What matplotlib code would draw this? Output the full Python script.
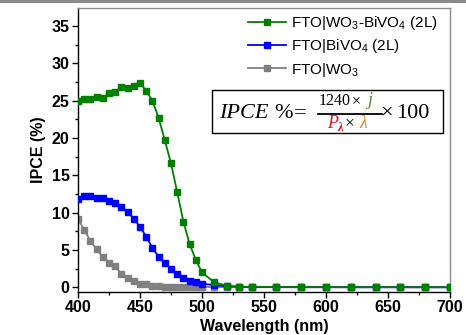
import matplotlib
matplotlib.use("Agg")
import matplotlib.pyplot as plt
from matplotlib.ticker import MultipleLocator
from matplotlib.patches import Rectangle

# ---- data ----
wavelength = [400, 405, 410, 415, 420, 425, 430, 435, 440, 445, 450, 455, 460, 465, 470,
              475, 480, 485, 490, 495, 500, 510, 520, 530, 540, 560, 580, 600, 620, 640,
              660, 680, 700]
ipce_wo3_bivo4 = [24.9, 25.2, 25.2, 25.5, 25.4, 26.0, 26.2, 26.8, 26.7, 26.9, 27.4, 26.3, 25.0,
                  22.7, 19.7, 16.6, 12.75, 8.8, 5.8, 3.7, 2.0, 0.67, 0.23, 0.1, 0.08, 0.05,
                  0.05, 0.05, 0.04, 0.04, 0.04, 0.03, 0.03]
ipce_bivo4 = [11.8, 12.2, 12.2, 12.0, 11.95, 11.6, 11.3, 10.8, 10.1, 9.2, 8.1, 6.8, 5.3, 4.1,
              3.2, 2.5, 1.8, 1.3, 0.9, 0.67, 0.5, 0.3, 0.15, 0.08, 0.05, 0.04, 0.03, 0.03,
              0.02, 0.02, 0.02, 0.02, 0.02]
ipce_wo3 = [9.2, 7.7, 6.25, 5.1, 4.06, 3.26, 2.8, 1.83, 1.26, 0.8, 0.5, 0.4, 0.25, 0.15, 0.1,
            0.08, 0.07, 0.06, 0.05, 0.05, 0.05, 0.04, 0.04, 0.03, 0.03, 0.03, 0.02, 0.02,
            0.02, 0.02, 0.02, 0.02, 0.02]
labels = [r"FTO|WO$_3$-BiVO$_4$ (2L)", r"FTO|BiVO$_4$ (2L)", r"FTO|WO$_3$"]
x_ticks = [400, 450, 500, 550, 600, 650, 700]
y_ticks = [0, 5, 10, 15, 20, 25, 30, 35]

plt.rcParams['font.family'] = ['Liberation Sans', 'DejaVu Sans']
plt.rcParams['mathtext.fontset'] = 'custom'
plt.rcParams['mathtext.rm'] = 'Liberation Sans'
plt.rcParams['mathtext.it'] = 'Liberation Sans:italic'

W, H = 466, 335
fig = plt.figure(figsize=(W / 100, H / 100), dpi=100)
ax = fig.add_axes([78 / W, 1 - 291.5 / H, (450 - 78) / W, (291.5 - 8) / H])

# top gray band
fig.add_artist(Rectangle((0, 1 - 3 / H), 1, 3 / H, transform=fig.transFigure,
                         facecolor='#8a8a8a', edgecolor='none'))

ms = 4.4
lw = 1.3
l3, = ax.plot(wavelength, ipce_wo3, color='#808080', marker='s', ms=ms, lw=lw,
              label=labels[2], zorder=2)
l2, = ax.plot(wavelength, ipce_bivo4, color='#0000ff', marker='s', ms=ms, lw=lw,
              label=labels[1], zorder=3)
l1, = ax.plot(wavelength, ipce_wo3_bivo4, color='#008000', marker='s', ms=ms, lw=lw,
              label=labels[0], zorder=4)

ax.set_xlim(400, 700)
ax.set_ylim(-0.55, 37.4)
ax.set_xticks(x_ticks)
ax.set_yticks(y_ticks)
ax.xaxis.set_minor_locator(MultipleLocator(25))
ax.yaxis.set_minor_locator(MultipleLocator(2.5))
ax.tick_params(which='major', direction='out', length=4, width=1, labelsize=11.5, pad=2)
ax.tick_params(which='minor', direction='out', length=2.5, width=1)
ax.tick_params(axis='y', which='both', right=False)
ax.tick_params(axis='x', which='both', top=False)
for lab in ax.get_xticklabels() + ax.get_yticklabels():
    lab.set_fontweight('bold')

for s in ['left', 'bottom']:
    ax.spines[s].set_color('black')
    ax.spines[s].set_linewidth(1)
for s in ['top', 'right']:
    ax.spines[s].set_color('#8a8a8a')
    ax.spines[s].set_linewidth(1)

ax.set_xlabel('Wavelength (nm)', fontsize=11.5, fontweight='bold', labelpad=3)
ax.set_ylabel('IPCE (%)', fontsize=11.5, fontweight='bold', labelpad=4)

leg = ax.legend(handles=[l1, l2, l3], loc='upper right', frameon=False, fontsize=11,
                numpoints=1, handlelength=2.5, handletextpad=0.3, labelspacing=0.35,
                borderaxespad=0.0, borderpad=0.2, bbox_to_anchor=(0.975, 0.99))

# equation box
def fx(px):
    return px / W

def fy(py):
    return 1 - py / H

fig.add_artist(Rectangle((fx(212), fy(133)), (443 - 212) / W, (133 - 89.5) / H,
                         transform=fig.transFigure, facecolor='white',
                         edgecolor='black', lw=1, zorder=5))
serif = ['Liberation Serif', 'DejaVu Serif']
base = 118
fs = 16
fig.text(fx(219), fy(base), 'IPCE', family=serif, style='italic', fontsize=fs,
         va='baseline', ha='left', zorder=6)
fig.text(fx(274), fy(base), '%', family=serif, fontsize=fs,
         va='baseline', ha='left', zorder=6)
fig.text(fx(294), fy(base), '=', family=serif, fontsize=fs,
         va='baseline', ha='left', zorder=6)
fig.text(fx(319), fy(105), '1240', family=serif, fontsize=11.5,
         va='baseline', ha='left', zorder=6)
fig.text(fx(352), fy(105), '\u00d7', family=serif, fontsize=11.5,
         va='baseline', ha='left', zorder=6)
fig.text(fx(368), fy(105), 'j', family=serif, style='italic', fontsize=13,
         color='#4e8f2e', va='baseline', ha='left', zorder=6)
fig.add_artist(plt.Line2D([fx(318), fx(382)], [fy(113.5), fy(113.5)],
                          transform=fig.transFigure, color='black', lw=1.3, zorder=6))
fig.text(fx(327), fy(127.5), 'P', family=serif, style='italic', fontsize=13,
         color='#e0161b', va='baseline', ha='left', zorder=6)
fig.text(fx(337), fy(130.5), '\u03bb', family=serif, style='italic', fontsize=9,
         color='#e0161b', va='baseline', ha='left', zorder=6, weight='bold')
fig.text(fx(345), fy(127.5), '\u00d7', family=serif, fontsize=12.5,
         va='baseline', ha='left', zorder=6)
fig.text(fx(359), fy(127.5), '\u03bb', family=serif, style='italic', fontsize=13,
         color='#f07f20', va='baseline', ha='left', zorder=6)
fig.text(fx(380), fy(base), '\u00d7', family=serif, fontsize=fs,
         va='baseline', ha='left', zorder=6)
fig.text(fx(396), fy(base), '100', family=serif, fontsize=fs,
         va='baseline', ha='left', zorder=6)

fig.savefig('out.png', dpi=100)
